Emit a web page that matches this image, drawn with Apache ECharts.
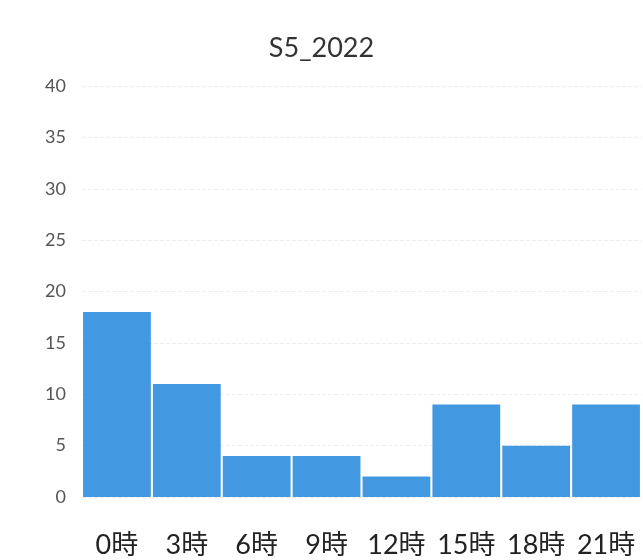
<!DOCTYPE html>
<html>
<head>
<meta charset="utf-8">
<script src="https://cdn.jsdelivr.net/npm/echarts@6/dist/echarts.min.js"></script>
<style>html,body{margin:0;padding:0;background:#fff}#c{width:643px;height:560px}</style>
</head>
<body>
<div id="c"></div>
<script>
const categories = ['0時','3時','6時','9時','12時','15時','18時','21時'];
const values = [18, 11, 4, 4, 2, 9, 5, 9];
const yTicks = [0,5,10,15,20,25,30,35,40];
const titleText = 'S5_2022';

const chart = echarts.init(document.getElementById('c'));
chart.setOption({
  backgroundColor: '#fff',
  animation: false,
  title: {
    text: titleText, left: 'center', top: 30,
    textStyle: {fontFamily: 'Lato, "Noto Sans CJK JP"', fontSize: 27, fontWeight: 'normal', color: '#333'}
  },
  grid: {left: 82, right: 2, top: 86, bottom: 63},
  xAxis: {
    type: 'category', data: categories,
    axisLine: {show: false}, axisTick: {show: false},
    axisLabel: {interval: 0, hideOverlap: false, margin: 35, fontSize: 27, color: '#222', fontFamily: 'Lato, "Noto Sans CJK JP"'}
  },
  yAxis: {
    type: 'value', min: yTicks[0], max: yTicks[yTicks.length-1], interval: 5,
    axisLine: {show: false}, axisTick: {show: false},
    splitLine: {lineStyle: {color: '#eeeeee', type: 'dashed'}},
    axisLabel: {margin: 16, fontSize: 18, color: '#555', fontFamily: 'Lato'}
  },
  series: [{
    type: 'bar', data: values, barCategoryGap: '3%',
    itemStyle: {color: '#4299e1'}
  }]
});
</script>
</body>
</html>
